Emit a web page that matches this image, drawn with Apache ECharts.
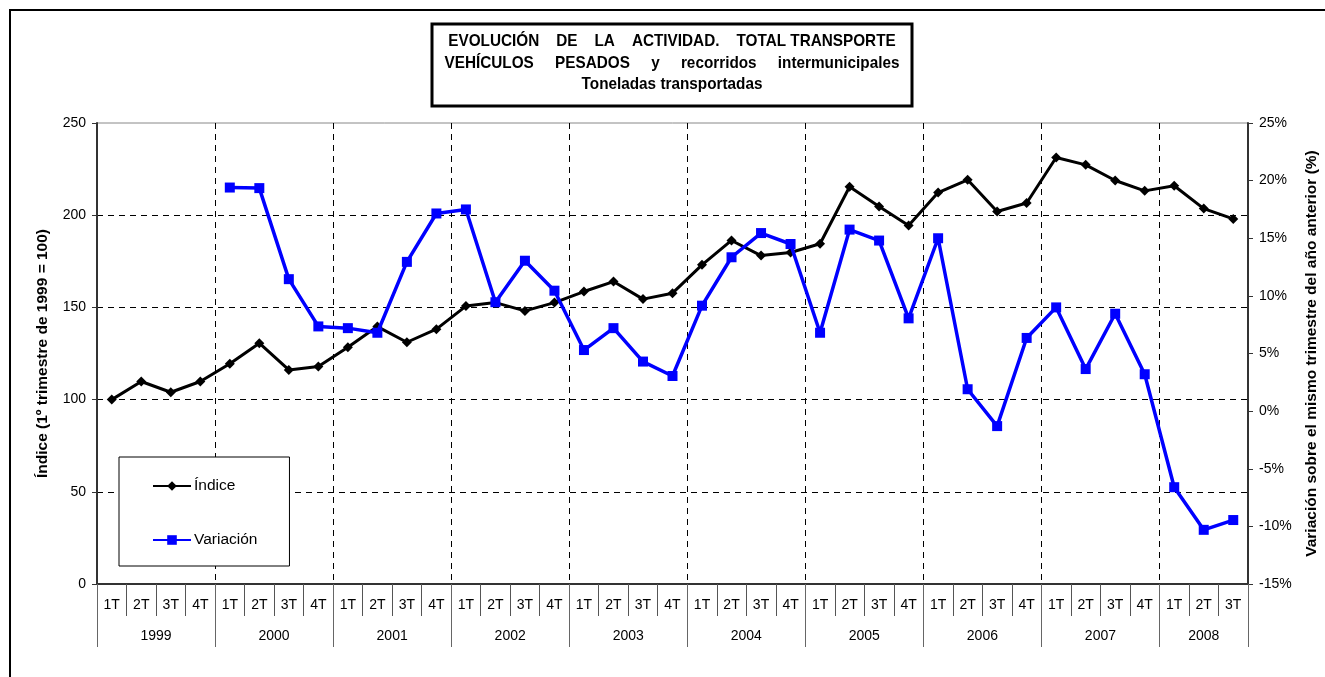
<!DOCTYPE html>
<html>
<head>
<meta charset="utf-8">
<script src="https://cdn.jsdelivr.net/npm/echarts@6/dist/echarts.min.js"></script>
<style>
  html, body { margin: 0; padding: 0; background: #fff; }
  #chart { width: 1325px; height: 677px; }
</style>
</head>
<body>
<div id="chart"></div>
<script>
// quarters 1999 1T .. 2008 3T
var years = ['1999', '2000', '2001', '2002', '2003', '2004', '2005', '2006', '2007', '2008']
var quarters = ['1T', '2T', '3T', '4T']
var categories = []
years.forEach(function (y, i) {
  var n = i === years.length - 1 ? 3 : 4
  for (var q = 0; q < n; q++) categories.push(quarters[q])
})

// Índice (1º trimestre de 1999 = 100)
var indice = [
  100, 109.8, 104, 109.8,
  119.4, 130.6, 116.1, 117.9,
  128.4, 139.6, 131.1, 138.2,
  150.7, 152.6, 148.1, 152.6,
  158.6, 164.0, 154.5, 157.7,
  173.1, 186.3, 178.1, 179.8,
  184.5, 215.4, 204.7, 194.4,
  212.3, 219.2, 202.0, 206.6,
  231.3, 227.3, 218.8, 213.2,
  216.0, 203.6, 198.0
]

// Variación sobre el mismo trimestre del año anterior (%)
var variacion = [
  '-', '-', '-', '-',
  19.4, 19.35, 11.45, 7.35,
  7.2, 6.8, 12.95, 17.15,
  17.5, 9.45, 13.05, 10.45,
  5.3, 7.2, 4.3, 3.05,
  9.15, 13.35, 15.45, 14.5,
  6.8, 15.75, 14.8, 8.05,
  15.0, 1.9, -1.3, 6.35,
  9.0, 3.65, 8.45, 3.2,
  -6.6, -10.3, -9.45
]

// year label positions along the quarter scale (0..39)
var yearCenters = [2, 6, 10, 14, 18, 22, 26, 30, 34, 37.5]

var titleText = 'EVOLUCIÓN    DE    LA    ACTIVIDAD.    TOTAL TRANSPORTE\n' +
  'VEHÍCULOS     PESADOS     y     recorridos     intermunicipales\n' +
  'Toneladas transportadas'

var chart = echarts.init(document.getElementById('chart'))
var font = '"Liberation Sans", Arial, sans-serif'
var dash = [6, 5]

chart.setOption({
  animation: false,
  textStyle: { fontFamily: font },
  graphic: [
    {
      type: 'rect',
      shape: { x: 10, y: 10, width: 1330, height: 700 },
      style: { fill: 'none', stroke: '#000', lineWidth: 2 },
      silent: true
    },
    {
      type: 'rect',
      shape: { x: 432, y: 24, width: 480, height: 82 },
      style: { fill: 'none', stroke: '#000', lineWidth: 3 },
      silent: true
    },
    {
      // title, slightly condensed like the original
      type: 'text',
      x: 672,
      y: 31,
      scaleX: 0.9,
      scaleY: 1,
      silent: true,
      style: {
        text: titleText,
        fontFamily: font,
        fontSize: 17,
        fontWeight: 'bold',
        fill: '#000',
        lineHeight: 21.5,
        align: 'center',
        verticalAlign: 'top'
      }
    }
  ],
  legend: {
    orient: 'vertical',
    left: 119,
    top: 457,
    padding: [21, 32, 18, 33],
    itemGap: 38,
    itemWidth: 38,
    itemHeight: 12,
    backgroundColor: '#fff',
    borderColor: '#000',
    borderWidth: 1,
    borderRadius: 0,
    textStyle: { fontFamily: font, fontSize: 15.5, color: '#000', padding: [0, 0, 0, -2] },
    data: ['Índice', 'Variación']
  },
  grid: {
    left: 97,
    right: 77,
    top: 123,
    bottom: 93,
    show: true,
    borderColor: '#888',
    borderWidth: 1,
    containLabel: false,
    outerBoundsMode: 'none'
  },
  xAxis: [
    {
      type: 'category',
      data: categories,
      boundaryGap: true,
      axisLine: { show: true, onZero: false, lineStyle: { color: '#333', width: 2 } },
      axisTick: { show: true, interval: 0, length: 32, lineStyle: { color: '#555', width: 1 } },
      axisLabel: { interval: 0, margin: 14, fontSize: 14, color: '#000', fontFamily: font },
      splitLine: { show: false }
    },
    {
      type: 'value',
      position: 'bottom',
      min: 0,
      max: 39,
      interval: 4,
      axisLine: { show: false, onZero: false },
      axisTick: { show: true, length: 63, lineStyle: { color: '#666', width: 1 } },
      axisLabel: {
        customValues: yearCenters,
        margin: 45,
        fontSize: 14,
        color: '#000',
        fontFamily: font,
        formatter: function (v) {
          var i = yearCenters.indexOf(v)
          return i >= 0 ? years[i] : ''
        }
      },
      splitLine: {
        show: true,
        showMinLine: false,
        showMaxLine: false,
        lineStyle: { color: '#000', type: dash, width: 1 }
      }
    }
  ],
  yAxis: [
    {
      type: 'value',
      min: 0,
      max: 250,
      interval: 50,
      position: 'left',
      name: 'Índice (1º trimestre de 1999 = 100)',
      nameLocation: 'middle',
      nameRotate: 90,
      nameGap: 46,
      nameTextStyle: { fontFamily: font, fontSize: 15.5, fontWeight: 'bold', color: '#000' },
      axisLine: { show: true, onZero: false, lineStyle: { color: '#333', width: 2 } },
      axisTick: { show: true, length: 5, lineStyle: { color: '#333' } },
      axisLabel: { margin: 11, fontSize: 14, color: '#000', fontFamily: font },
      splitLine: {
        show: true,
        showMinLine: false,
        showMaxLine: false,
        lineStyle: { color: '#000', type: dash, width: 1 }
      }
    },
    {
      type: 'value',
      min: -15,
      max: 25,
      interval: 5,
      position: 'right',
      name: 'Variación sobre el mismo trimestre del año anterior (%)',
      nameLocation: 'middle',
      nameRotate: 90,
      nameGap: 56,
      nameTextStyle: { fontFamily: font, fontSize: 15.5, fontWeight: 'bold', color: '#000' },
      axisLine: { show: true, onZero: false, lineStyle: { color: '#333', width: 2 } },
      axisTick: { show: true, length: 5, lineStyle: { color: '#333' } },
      axisLabel: { margin: 11, fontSize: 14, color: '#000', fontFamily: font, formatter: '{value}%' },
      splitLine: { show: false }
    }
  ],
  series: [
    {
      name: 'Índice',
      type: 'line',
      xAxisIndex: 0,
      yAxisIndex: 0,
      data: indice,
      symbol: 'diamond',
      symbolSize: 10,
      lineStyle: { color: '#000', width: 3 },
      itemStyle: { color: '#000' },
      z: 3
    },
    {
      name: 'Variación',
      type: 'line',
      xAxisIndex: 0,
      yAxisIndex: 1,
      data: variacion,
      symbol: 'rect',
      symbolSize: 10,
      lineStyle: { color: '#0000ff', width: 3.5 },
      itemStyle: { color: '#0000ff' },
      z: 4
    }
  ]
})
</script>
</body>
</html>
